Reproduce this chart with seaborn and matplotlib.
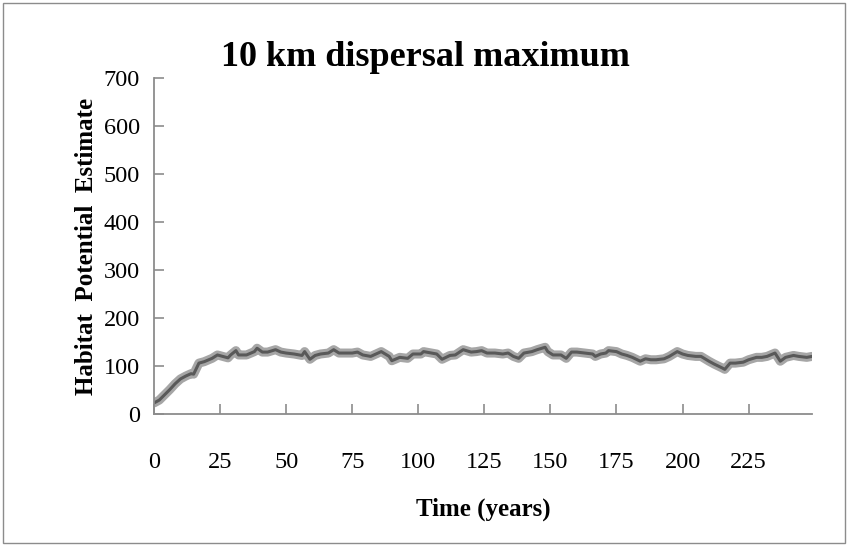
import matplotlib
matplotlib.use("Agg")
import matplotlib.pyplot as plt
from matplotlib.patches import Rectangle
import numpy as np
import pandas as pd
import seaborn as sns

# Habitat potential estimate over time (10 km dispersal maximum)
years = [0, 2, 4, 6, 8, 10, 12, 14, 15, 17, 19, 22, 24, 26, 28, 29, 31, 32,
         35, 38, 39, 41, 43, 46, 48, 50, 53, 56, 57, 59, 61, 63, 66, 68, 70,
         72, 75, 77, 79, 82, 84, 86, 89, 90, 93, 96, 98, 101, 102, 105,
         107, 109, 112, 114, 117, 120, 122, 124, 126, 129, 132, 134, 136, 138, 140,
         143, 145, 148, 149, 151, 154, 156, 158, 160, 163, 166, 167, 169, 171, 172,
         175, 177, 179, 181, 184, 186, 188, 190, 193, 195, 198, 200, 202, 205, 207,
         210, 212, 215, 216, 218, 220, 223, 225, 228, 230, 232, 235, 237, 239, 242,
         244, 247, 249]
values = [23, 29, 40, 51, 63, 73, 79, 84, 83, 106, 109, 116, 123, 120, 117, 123, 132, 123,
          123, 130, 137, 129, 129, 134, 129, 127, 125, 122, 130, 114, 122, 125, 127, 134, 127,
          127, 127, 129, 123, 120, 125, 130, 120, 111, 118, 116, 125, 125, 130, 127,
          125, 114, 122, 123, 134, 129, 130, 132, 127, 127, 125, 127, 120, 116, 127,
          130, 134, 139, 130, 123, 123, 116, 129, 129, 127, 125, 120, 125, 127, 132,
          130, 125, 122, 118, 110, 115, 113, 113, 115, 120, 130, 125, 122, 120, 120,
          110, 104, 96, 93, 106, 106, 108, 113, 118, 118, 120, 127, 110, 118, 122,
          120, 118, 120]

df = pd.DataFrame({"Time (years)": years, "Habitat Potential Estimate": values})

sns.set_theme(style="white")
plt.rcParams["font.family"] = ["Liberation Serif", "DejaVu Serif"]
plt.rcParams["text.color"] = "black"
plt.rcParams["axes.labelcolor"] = "black"
plt.rcParams["xtick.labelcolor"] = "black"
plt.rcParams["ytick.labelcolor"] = "black"

fig = plt.figure(figsize=(8.48, 5.46), dpi=100)
fig.patches.append(Rectangle((0.004, 0.006), 0.992, 0.988, transform=fig.transFigure,
                             fill=False, edgecolor="#8c8c8c", linewidth=1.0))

ax = fig.add_axes([154 / 848, 1 - 414 / 546, (812 - 154) / 848, (414 - 78) / 546])

sns.lineplot(data=df, x="Time (years)", y="Habitat Potential Estimate", ax=ax,
             color="#a6a6a6", linewidth=6.5, solid_joinstyle="round", solid_capstyle="round")
sns.lineplot(data=df, x="Time (years)", y="Habitat Potential Estimate", ax=ax,
             color="#595959", linewidth=2.2)

ax.set_xlim(0, 249)
ax.set_ylim(0, 700)
ax.set_xticks(np.arange(0, 226, 25))
ax.set_yticks(np.arange(0, 701, 100))

for side in ("top", "right"):
    ax.spines[side].set_visible(False)
for side in ("left", "bottom"):
    ax.spines[side].set_color("#8c8c8c")
    ax.spines[side].set_linewidth(1.3)

ax.tick_params(axis="x", direction="in", length=7, width=1.2, color="#8c8c8c",
               labelsize=17.5, pad=27, bottom=True)
ax.tick_params(axis="y", direction="in", length=7, width=1.2, color="#8c8c8c",
               labelsize=17.5, pad=10, left=True)

ax.set_xlabel("Time (years)", fontsize=18, fontweight="bold", labelpad=18)
ax.set_ylabel("Habitat  Potential  Estimate", fontsize=18, fontweight="bold", labelpad=4)

fig.text(425 / 848, 1 - 57 / 546, "10 km dispersal maximum", ha="center", va="center",
         fontsize=26, fontweight="bold")

fig.savefig("out.png", dpi=100)
